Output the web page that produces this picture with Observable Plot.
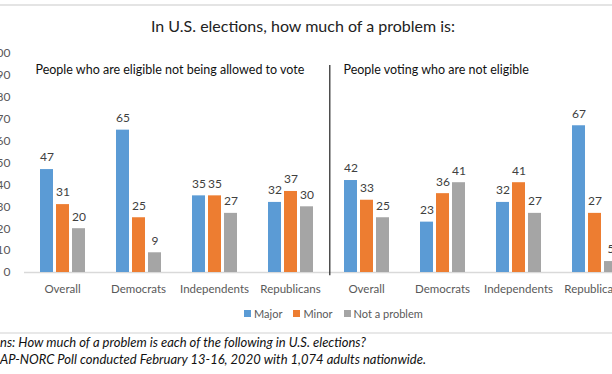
<!DOCTYPE html>
<html>
<head>
<meta charset="utf-8">
<script src="https://cdn.jsdelivr.net/npm/d3@7"></script>
<script src="https://cdn.jsdelivr.net/npm/@observablehq/plot@0.6"></script>
<style>
  html, body { margin: 0; padding: 0; background: #fff; }
  body { width: 612px; height: 374px; overflow: hidden; position: relative; font-family: Lato, sans-serif; }
  .topline { position: absolute; left: 0; top: 4px; width: 612px; height: 0; border-top: 2px solid #e4e4e4; }
  .title { position: absolute; left: 0; width: 606px; top: 16px; text-align: center; font-size: 16px; color: #222; }
  #chart { position: absolute; left: -14px; top: 40px; width: 680px; height: 262px; }
  #chart svg { max-width: none; }
  .legend { position: absolute; top: 307px; left: 244px; font-size: 11px; color: #595959; display: flex; align-items: center; white-space: nowrap; }
  .legend span.sw { display: inline-block; width: 7px; height: 7px; margin-right: 3px; }
  .legend span.item { display: inline-flex; align-items: center; margin-right: 11px; }
  .sep { position: absolute; left: 0; top: 332px; width: 612px; border-top: 2px solid #e8e8e8; }
  .caption { position: absolute; left: 0; font-style: italic; font-size: 13px; color: #111; white-space: nowrap; }
</style>
</head>
<body>
<div class="topline"></div>
<div class="title" id="title"></div>
<div id="chart"></div>
<div class="legend" id="legend"></div>
<div class="sep"></div>
<div class="caption" id="cap1" style="top:334px"></div>
<div class="caption" id="cap2" style="top:351px"></div>
<script>
// ---- data ----
const title = "In U.S. elections, how much of a problem is:";
const groups = ["Overall", "Democrats", "Independents", "Republicans"];
const series = ["Major", "Minor", "Not a problem"];
const colors = ["#5B9BD5", "#ED7D31", "#A5A5A5"];
const panelTitles = ["People who are eligible not being allowed to vote", "People voting who are not eligible"];
const eligibleMajor = [47, 65, 35, 32];
const eligibleMinor = [31, 25, 35, 37];
const eligibleNot = [20, 9, 27, 30];
const ineligibleMajor = [42, 23, 32, 67];
const ineligibleMinor = [33, 36, 41, 27];
const ineligibleNot = [25, 41, 27, 5];
const yTicks = [0, 10, 20, 30, 40, 50, 60, 70, 80, 90, 100];
const captionLines = [
  "ns: How much of a problem is each of the following in U.S. elections?",
  "AP-NORC Poll conducted February 13-16, 2020 with 1,074 adults nationwide."
];

// ---- build table ----
const panelValues = [
  [eligibleMajor, eligibleMinor, eligibleNot],
  [ineligibleMajor, ineligibleMinor, ineligibleNot]
];
const keys = [];
const rows = [];
panelValues.forEach((vals, p) => {
  groups.forEach((g, gi) => {
    const key = p + ":" + g;
    keys.push(key);
    series.forEach((s, si) => rows.push({key, series: s, value: vals[si][gi]}));
  });
});
const subtitleLeft = [{key: keys[0], text: panelTitles[0]}];
const subtitleRight = [{key: keys[4], text: panelTitles[1]}];
const divider = [{key: keys[4], series: series[0]}];

document.getElementById("title").textContent = title;
document.getElementById("cap1").textContent = captionLines[0];
document.getElementById("cap2").textContent = captionLines[1];
const leg = document.getElementById("legend");
series.forEach((s, i) => {
  const item = document.createElement("span");
  item.className = "item";
  const sw = document.createElement("span");
  sw.className = "sw";
  sw.style.background = colors[i];
  item.appendChild(sw);
  item.appendChild(document.createTextNode(s));
  leg.appendChild(item);
});

const chart = Plot.plot({
  width: 680,
  height: 262,
  marginLeft: 36,
  marginRight: 33,
  marginTop: 13,
  marginBottom: 30,
  style: {fontFamily: "Lato, sans-serif", fontSize: "11.5px", color: "#595959", background: "transparent", overflow: "visible", maxWidth: "none"},
  fx: {domain: keys, padding: 0, axis: "bottom", label: null, tickSize: 0, tickPadding: 12, tickFormat: k => k.split(":")[1]},
  x: {domain: series, axis: null, paddingInner: 0.2, paddingOuter: 0.85},
  y: {domain: [0, 100], axis: null},
  color: {domain: series, range: colors},
  marks: [
    Plot.axisY(yTicks, {tickSize: 0, tickPadding: 14, label: null, fill: "#595959", fontSize: 12}),
    Plot.ruleY([0], {stroke: "#d9d9d9", strokeWidth: 1.5}),
    Plot.barY(rows, {fx: "key", x: "series", y: "value", fill: "series"}),
    Plot.text(rows, {fx: "key", x: "series", y: "value", text: d => String(d.value), dy: -12, fill: "#404040", fontSize: 12}),
    Plot.ruleX(divider, {fx: "key", x: "series", y1: -1.5, y2: 94.5, dx: -21.2, stroke: "#222", strokeWidth: 1.2}),
    Plot.text(subtitleLeft, {fx: "key", y: 92.3, text: "text", frameAnchor: "left", textAnchor: "start", dx: 11, fill: "#111", fontSize: 12.5}),
    Plot.text(subtitleRight, {fx: "key", y: 92.3, text: "text", frameAnchor: "left", textAnchor: "start", dx: 15, fill: "#111", fontSize: 12.5})
  ]
});
document.getElementById("chart").appendChild(chart);
</script>
</body>
</html>
